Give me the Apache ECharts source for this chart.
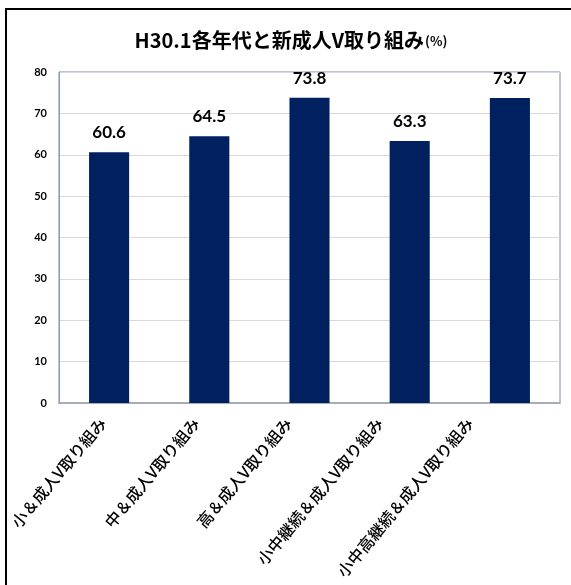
<!DOCTYPE html>
<html>
<head>
<meta charset="utf-8">
<script src="https://cdn.jsdelivr.net/npm/echarts@6/dist/echarts.min.js"></script>
<style>
  html, body { margin: 0; padding: 0; background: #fff; }
  #chart { width: 571px; height: 585px; }
</style>
</head>
<body>
<div id="chart"></div>
<script>
// Participation rate by group (%)
const categories = [
  '小＆成人V取り組み',
  '中＆成人V取り組み',
  '高＆成人V取り組み',
  '小中継続＆成人V取り組み',
  '小中高継続＆成人V取り組み'
];
const values = [60.6, 64.5, 73.8, 63.3, 73.7];
const yTicks = { min: 0, max: 80, interval: 10 };

const cjk = '"Noto Sans CJK JP", "Noto Sans", sans-serif';
const num = 'Lato, "Liberation Sans", sans-serif';

// Rotated category labels drift left progressively; each label's horizontal
// nudge (px) is turned into padding along / across the 50° text direction.
const ROT = 50 * Math.PI / 180;
const labelNudge = [1, 8, 16, 25, 35];
const labelRich = {};
labelNudge.forEach((d, i) => {
  labelRich['r' + i] = {
    fontFamily: cjk,
    fontSize: 16,
    fontWeight: 500,
    color: '#000',
    padding: [0, 8 + d * Math.cos(ROT), 2 * d * Math.sin(ROT), 0]
  };
});

const chart = echarts.init(document.getElementById('chart'), null, { renderer: 'canvas' });

chart.setOption({
  animation: false,
  backgroundColor: '#ffffff',
  title: {
    text: '{m|H30.1各年代と新成人V取り組み}{s|(%)}',
    left: 286,
    top: 25,
    textAlign: 'center',
    textStyle: {
      rich: {
        m: { fontFamily: cjk, fontSize: 20, fontWeight: 'bold', color: '#000' },
        s: { fontFamily: cjk, fontSize: 13, fontWeight: 'bold', color: '#000', padding: [3, 0, 0, 1] }
      }
    }
  },
  graphic: [{
    type: 'rect',
    shape: { x: 6, y: 9, width: 620, height: 620 },
    style: { fill: 'none', stroke: '#000', lineWidth: 2 },
    silent: true,
    z: 100
  }],
  grid: {
    left: 59, right: 11, top: 72, bottom: 182,
    show: true,
    borderColor: '#7d8cab',
    borderWidth: 1
  },
  xAxis: {
    type: 'category',
    data: categories,
    axisLine: { show: true, lineStyle: { color: '#a8acb8', width: 2 } },
    axisTick: { show: false },
    axisLabel: {
      interval: 0,
      rotate: 50,
      margin: 11,
      formatter: (value, index) => '{r' + index + '|' + value + '}',
      rich: labelRich
    }
  },
  yAxis: {
    type: 'value',
    min: yTicks.min,
    max: yTicks.max,
    interval: yTicks.interval,
    axisLine: { show: true, lineStyle: { color: '#8a98b4', width: 1 } },
    axisTick: { show: false },
    axisLabel: {
      margin: 12,
      fontFamily: num,
      fontSize: 11,
      fontWeight: 'bold',
      color: '#000'
    },
    splitLine: { show: true, lineStyle: { color: '#d9d9d9', width: 1 } }
  },
  series: [{
    type: 'bar',
    data: values,
    barWidth: '40%',
    itemStyle: { color: '#002060' },
    label: {
      show: true,
      position: 'top',
      distance: 11,
      formatter: (p) => p.value.toFixed(1),
      fontFamily: num,
      fontSize: 17,
      fontWeight: 'bold',
      color: '#000'
    }
  }]
});
</script>
</body>
</html>
